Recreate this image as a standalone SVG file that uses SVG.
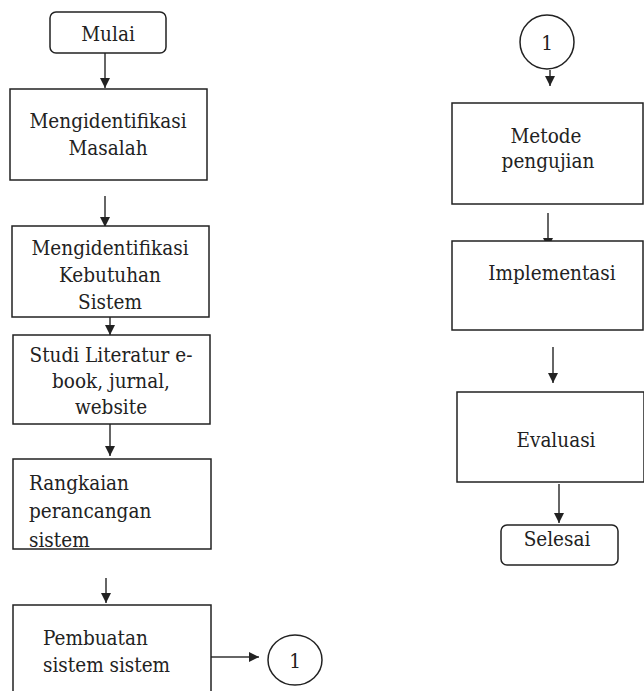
<svg xmlns="http://www.w3.org/2000/svg" width="644" height="691" viewBox="0 0 644 691">
<style>
.box{fill:#fff;stroke:#222;stroke-width:1.5}
.t{font-family:'DejaVu Serif',serif;font-stretch:condensed;font-size:20.5px;fill:#222}
.c{text-anchor:middle}
.ln{stroke:#333;stroke-width:1.5;fill:none}
</style>
<defs>
<marker id="ah" markerWidth="11" markerHeight="10" refX="10" refY="5" orient="auto" markerUnits="userSpaceOnUse">
<path d="M0,0 L10,5 L0,10 Z" fill="#222"/>
</marker>
</defs>
<rect width="644" height="691" fill="#fff"/>
<g id="connectors">
<line class="ln" x1="105" y1="53" x2="105" y2="88" marker-end="url(#ah)"/>
<line class="ln" x1="105" y1="196" x2="105" y2="227" marker-end="url(#ah)"/>
<line class="ln" x1="110" y1="313" x2="110" y2="335" marker-end="url(#ah)"/>
<line class="ln" x1="110" y1="424" x2="110" y2="456" marker-end="url(#ah)"/>
<line class="ln" x1="106" y1="578" x2="106" y2="603" marker-end="url(#ah)"/>
<line class="ln" x1="208" y1="657" x2="259" y2="657" marker-end="url(#ah)"/>
<line class="ln" x1="550" y1="70" x2="550" y2="86" marker-end="url(#ah)"/>
<line class="ln" x1="548" y1="213" x2="548" y2="248" marker-end="url(#ah)"/>
<line class="ln" x1="553" y1="347" x2="553" y2="383" marker-end="url(#ah)"/>
<line class="ln" x1="559" y1="484" x2="559" y2="523" marker-end="url(#ah)"/>
</g>
<g id="mulai">
<rect class="box" x="50" y="12" width="116" height="41" rx="6"/>
<text class="t c" x="108" y="41">Mulai</text>
</g>
<g id="identifikasi-masalah">
<rect class="box" x="10" y="89" width="197" height="91"/>
<text class="t c" x="108" y="128">Mengidentifikasi</text>
<text class="t c" x="108" y="155">Masalah</text>
</g>
<g id="identifikasi-kebutuhan">
<rect class="box" x="12" y="226" width="197" height="91"/>
<text class="t c" x="110" y="255">Mengidentifikasi</text>
<text class="t c" x="110" y="282">Kebutuhan</text>
<text class="t c" x="110" y="309">Sistem</text>
</g>
<g id="studi-literatur">
<rect class="box" x="13" y="335" width="197" height="89"/>
<text class="t c" x="111" y="362">Studi Literatur e-</text>
<text class="t c" x="111" y="388">book, jurnal,</text>
<text class="t c" x="111" y="414">website</text>
</g>
<g id="rangkaian">
<rect class="box" x="13" y="459" width="198" height="90"/>
<text class="t" x="29" y="490">Rangkaian</text>
<text class="t" x="29" y="518">perancangan</text>
<text class="t" x="29" y="547">sistem</text>
</g>
<g id="pembuatan">
<rect class="box" x="13" y="605" width="198" height="100"/>
<text class="t" x="43" y="645">Pembuatan</text>
<text class="t" x="43" y="672">sistem sistem</text>
</g>
<g id="connector-out">
<ellipse class="box" cx="295" cy="660" rx="27" ry="25"/>
<text class="t c" x="295" y="668">1</text>
</g>
<g id="connector-in">
<ellipse class="box" cx="547" cy="42" rx="27" ry="27"/>
<text class="t c" x="547" y="50">1</text>
</g>
<g id="metode">
<rect class="box" x="452" y="103" width="191" height="101"/>
<text class="t c" x="546" y="143">Metode</text>
<text class="t c" x="548" y="168">pengujian</text>
</g>
<g id="implementasi">
<rect class="box" x="452" y="241" width="191" height="89"/>
<text class="t c" x="552" y="280">Implementasi</text>
</g>
<g id="evaluasi">
<rect class="box" x="457" y="392" width="187" height="90"/>
<text class="t c" x="556" y="447">Evaluasi</text>
</g>
<g id="selesai">
<rect class="box" x="501" y="525" width="117" height="40" rx="6"/>
<text class="t c" x="557" y="546">Selesai</text>
</g>
</svg>
